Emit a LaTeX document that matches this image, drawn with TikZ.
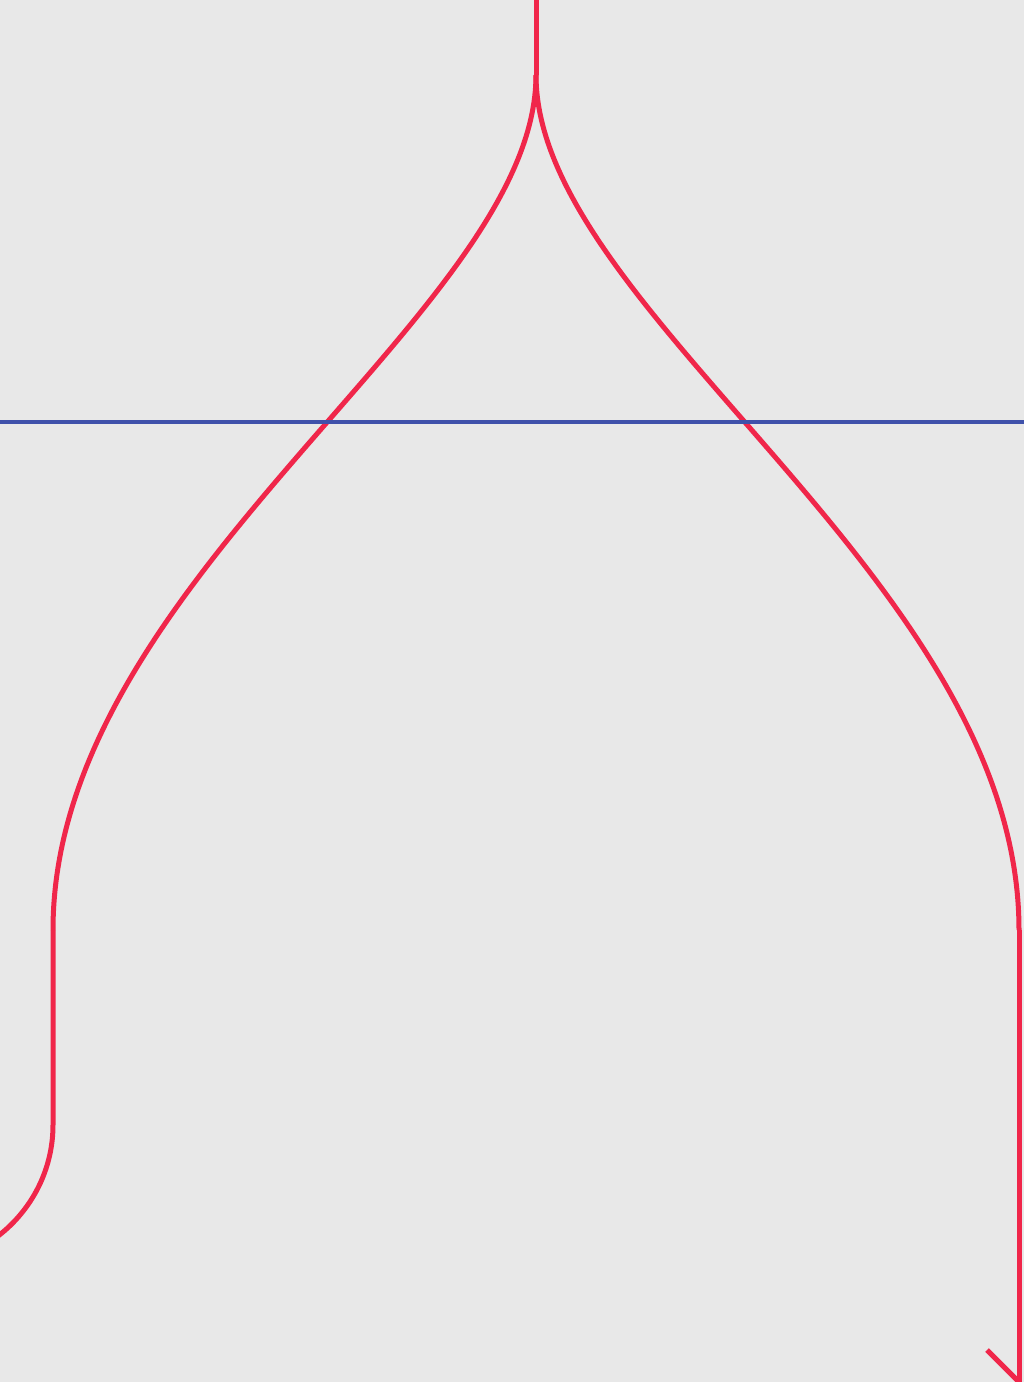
\documentclass[tikz,border=0pt]{standalone}
\definecolor{bg}{RGB}{232,232,232}
\definecolor{rline}{RGB}{240,38,74}
\definecolor{bline}{RGB}{63,81,170}
\begin{document}
\begin{tikzpicture}[x=1pt,y=-1pt,
  redpath/.style={draw=rline,line width=5pt},
  bluepath/.style={draw=bline,line width=3.6pt}]
\useasboundingbox (0,0) rectangle (1024,1382);
\clip (0,0) rectangle (1024,1382);
\fill[bg] (0,0) rectangle (1024,1382);
% coordinates
\coordinate (top) at (536,-10);
\coordinate (split) at (536,75);
\coordinate (lj) at (53,930);
\coordinate (rj) at (1019,930);
\coordinate (lbend) at (53,1125);
\coordinate (lout) at (-87,1265);
\coordinate (rend) at (1019,1382);
\coordinate (barb) at (987,1350);
\coordinate (bl) at (-10,422);
\coordinate (br) at (1034,422);
% red route
\path[redpath] (top) -- (split);
\path[redpath] (split) .. controls (536,313) and (53,578) .. (lj);
\path[redpath] (split) .. controls (536,313) and (1019,578) .. (rj);
\path[redpath] (lj) -- (lbend) .. controls (53,1202) and (-10,1265) .. (lout);
\path[redpath] (rj) -- (rend);
\path[redpath] (barb) -- (rend);
% blue line
\path[bluepath] (bl) -- (br);
\end{tikzpicture}
\end{document}
